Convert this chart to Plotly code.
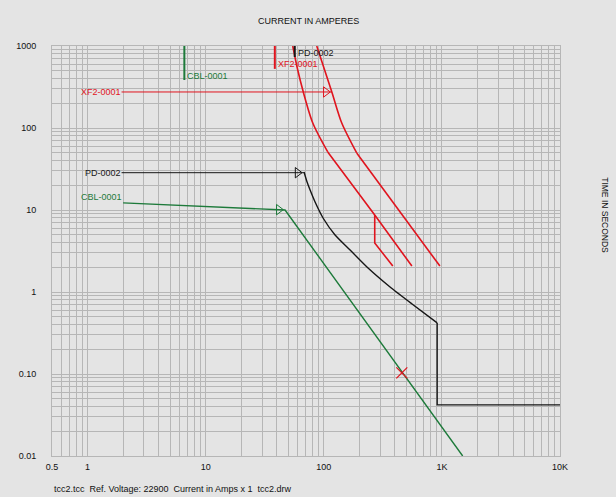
import math
import plotly.graph_objects as go

# ---- device curves (current in A, time in s) ----
# XF2-0001: two red characteristic curves plus a stepped branch
xf2_left_top_i = [54.6, 60, 66.4, 80.7, 108]
xf2_left_top_t = [1000, 520, 290, 115, 51]
xf2_left_low_i = [108, 270, 557]
xf2_left_low_t = [51, 8.7, 2.07]
xf2_branch_i = [270, 270, 384]
xf2_branch_t = [8.7, 3.96, 2.07]
xf2_right_top_i = [87.2, 117, 142, 190]
xf2_right_top_t = [1000, 275, 115, 49.6]
xf2_right_low_i = [190, 962]
xf2_right_low_t = [49.6, 2.07]

# PD-0002: black inverse-time curve, then instantaneous step
pd_curve_i = [68.1, 72.2, 76.6, 84.4, 98.6, 124.6, 167, 237, 364, 559, 912]
pd_curve_t = [29.1, 21.9, 17.5, 12.5, 7.99, 4.96, 3.25, 1.96, 1.15, 0.714, 0.42]
pd_step_i = [912, 912, 10000]
pd_step_t = [0.42, 0.042, 0.042]

# CBL-0001: green cable damage curve
cbl_i = [2.0, 47, 1500]
cbl_t = [12.2, 10, 0.01]

# short vertical markers near the top (amps, lower end in s)
cbl_amp, cbl_amp_t = 6.6, 385
xf2_amp, xf2_amp_t = 38.5, 526
pd_amp, pd_amp_t = 56.8, 734

# label leaders (start current, end current, time)
xf2_leader = (1.94, 117, 275)
pd_leader = (1.94, 68.1, 28.5)

# arrow heads on the leaders (current, time)
arrow_i = [104, 60, 41.6]
arrow_t = [275, 28.5, 10.1]

# fault point
fault_i = [458]
fault_t = [0.103]

# axis tick labels
x_labels = {0.5: "0.5", 1: "1", 10: "10", 100: "100", 1000: "1K", 10000: "10K"}
y_labels = {1000: "1000", 100: "100", 10: "10", 1: "1", 0.1: "0.10", 0.01: "0.01"}

RED = "#e0141e"
GREEN = "#1d7a3a"
BLACK = "#161616"
BG = "#e4e4e4"
GRID = "#b6b6b6"
FONT = "Liberation Sans, Arial, sans-serif"


def decade_vals(lo_exp, hi_exp):
    vals = []
    for e in range(lo_exp, hi_exp):
        for m in range(1, 10):
            vals.append(round(m * 10 ** e, 10))
    vals.append(round(10 ** hi_exp, 10))
    return vals


x_vals = [v for v in decade_vals(-1, 4) if v >= 0.5]
y_vals = decade_vals(-2, 3)

fig = go.Figure()


def line(x, y, color, width, shape="linear", smoothing=0.8):
    ln = dict(color=color, width=width, shape=shape)
    if shape == "spline":
        ln["smoothing"] = smoothing
    fig.add_trace(go.Scatter(x=x, y=y, mode="lines", line=ln,
                             hoverinfo="skip", showlegend=False))


line(xf2_left_top_i, xf2_left_top_t, RED, 1.6, "spline")
line(xf2_left_low_i, xf2_left_low_t, RED, 1.6)
line(xf2_branch_i, xf2_branch_t, RED, 1.6)
line(xf2_right_top_i, xf2_right_top_t, RED, 1.6, "spline")
line(xf2_right_low_i, xf2_right_low_t, RED, 1.6)
line(pd_curve_i, pd_curve_t, BLACK, 1.4, "spline", 0.6)
line(pd_step_i, pd_step_t, BLACK, 1.4)
line(cbl_i, cbl_t, GREEN, 1.4)

line([cbl_amp, cbl_amp], [cbl_amp_t, 1000], GREEN, 2)
line([xf2_amp, xf2_amp], [xf2_amp_t, 1000], RED, 2)
line([pd_amp, pd_amp], [pd_amp_t, 1000], BLACK, 2)

line([xf2_leader[0], xf2_leader[1]], [xf2_leader[2]] * 2, RED, 1)
line([pd_leader[0], pd_leader[1]], [pd_leader[2]] * 2, BLACK, 1)

arrow_colors = [RED, BLACK, GREEN]
for ai, at, c in zip(arrow_i, arrow_t, arrow_colors):
    fig.add_trace(go.Scatter(x=[ai], y=[at], mode="markers",
                             marker=dict(symbol="triangle-right-open", size=9,
                                         color=c, line=dict(color=c, width=1)),
                             hoverinfo="skip", showlegend=False))

fig.add_trace(go.Scatter(x=fault_i, y=fault_t, mode="markers",
                         marker=dict(symbol="x-thin-open", size=11, color=RED,
                                     line=dict(color=RED, width=1.2)),
                         hoverinfo="skip", showlegend=False))


def label(x, y, text, color, xanchor="left", xshift=0):
    fig.add_annotation(x=math.log10(x), y=math.log10(y), text=text,
                       showarrow=False, xanchor=xanchor, yanchor="middle",
                       xshift=xshift,
                       font=dict(family=FONT, size=9, color=color))


label(xf2_leader[0], xf2_leader[2], "XF2-0001", RED, "right", 1)
label(pd_leader[0], pd_leader[2], "PD-0002", BLACK, "right", 1)
label(cbl_i[0], 12.2 * 1.18, "CBL-0001", GREEN, "right", 1)
label(pd_amp, 820, "PD-0002", BLACK, "left", 1)
label(xf2_amp, 600, "XF2-0001", RED, "left", 1)
label(cbl_amp, 430, "CBL-0001", GREEN, "left", 1)

fig.add_annotation(xref="paper", yref="paper", x=0.504, y=1.061,
                   text="CURRENT IN AMPERES", showarrow=False,
                   xanchor="center", yanchor="middle",
                   font=dict(family=FONT, size=9, color="#111"))
fig.add_annotation(xref="paper", yref="paper", x=1.088, y=0.588,
                   text="TIME IN SECONDS", showarrow=False, textangle=90,
                   xanchor="center", yanchor="middle",
                   font=dict(family=FONT, size=8.5, color="#111"))
fig.add_annotation(xref="paper", yref="paper", x=0.0, y=-0.080,
                   text="tcc2.tcc  Ref. Voltage: 22900  Current in Amps x 1  tcc2.drw",
                   showarrow=False, xanchor="left", yanchor="middle",
                   font=dict(family=FONT, size=9, color="#111"))

fig.update_layout(
    width=616, height=497,
    margin=dict(l=52, r=56, t=46, b=41),
    paper_bgcolor=BG, plot_bgcolor=BG,
    font=dict(family=FONT, size=9, color="#111"),
    xaxis=dict(type="log", range=[math.log10(0.5), 4],
               tickvals=x_vals,
               ticktext=[x_labels.get(v, "") for v in x_vals],
               tickfont=dict(size=9),
               showgrid=True, gridcolor=GRID, gridwidth=1,
               showline=True, linecolor=GRID, mirror=True,
               ticks="outside", ticklen=2, tickcolor=BG,
               zeroline=False, fixedrange=True),
    yaxis=dict(type="log", range=[-2, 3],
               tickvals=y_vals,
               ticktext=[y_labels.get(v, "") for v in y_vals],
               tickfont=dict(size=9),
               showgrid=True, gridcolor=GRID, gridwidth=1,
               showline=True, linecolor=GRID, mirror=True,
               ticks="outside", ticklen=13, tickcolor=BG,
               zeroline=False, fixedrange=True),
)

fig.write_html("out.html")
